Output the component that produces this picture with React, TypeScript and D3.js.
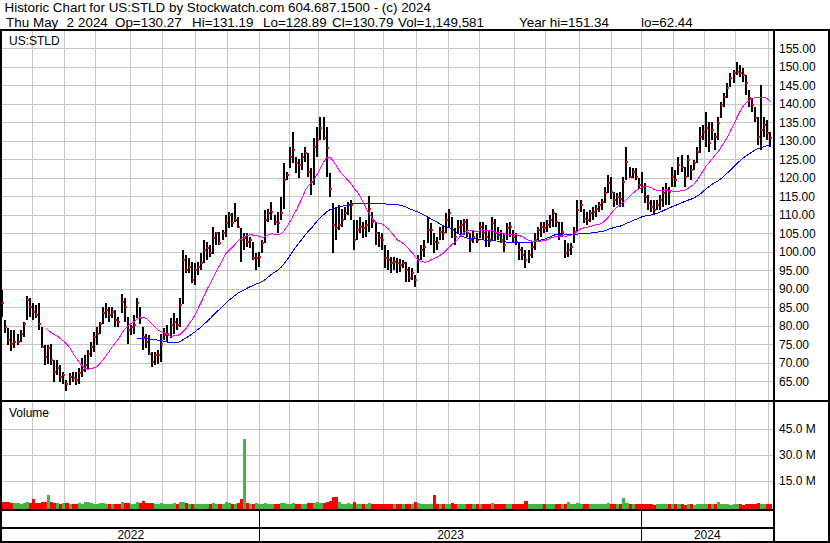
import React from "react";
import * as d3 from "d3";

// ---------- DATA (2-trading-day bars, May 2 2022 .. May 2 2024) ----------
const HIGHS = [
  89.7, 81.7, 79.3, 78.9, 78.9, 77.9, 79.0, 81.1, 88.0, 87.4,
  86.1, 85.6, 86.1, 79.7, 74.8, 74.8, 75.2, 70.7, 70.7, 69.4,
  67.6, 65.3, 67.2, 67.6, 67.6, 68.5, 71.2, 72.1, 73.5, 75.7,
  78.4, 79.7, 81.1, 85.2, 86.1, 85.2, 85.2, 84.3, 82.5, 88.6,
  87.4, 82.5, 80.2, 82.9, 87.4, 85.2, 79.7, 77.9, 77.5, 73.0,
  73.0, 73.5, 77.9, 79.3, 80.2, 82.0, 83.4, 82.0, 87.4, 100.5,
  99.1, 98.2, 97.3, 96.9, 97.3, 99.6, 103.2, 102.7, 101.8, 106.8,
  105.4, 105.4, 105.9, 109.9, 110.8, 110.4, 113.1, 109.5, 106.3, 105.0,
  105.0, 104.1, 102.7, 99.6, 100.0, 103.2, 111.3, 111.7, 113.5, 109.9,
  110.8, 114.9, 123.9, 121.7, 128.4, 132.5, 125.7, 125.2, 126.6, 128.4,
  126.6, 122.6, 130.7, 133.8, 136.5, 136.3, 133.8, 121.2, 113.1, 112.2,
  112.6, 111.7, 112.2, 113.5, 114.0, 108.6, 108.6, 109.5, 108.1, 108.6,
  115.1, 110.8, 107.7, 105.4, 105.0, 101.8, 100.5, 98.7, 98.7, 98.2,
  98.0,
  97.8, 97.3, 95.9, 95.5, 93.7, 99.1, 101.8, 103.2, 109.5, 107.7,
  105.0, 104.1, 106.8, 107.2, 110.4, 111.7, 109.5, 106.3, 108.6, 108.6,
  109.0, 109.0, 105.0, 105.9, 105.0, 108.1, 108.1, 107.2, 105.9, 109.5,
  109.0, 106.8, 105.9, 105.0, 107.7, 108.1, 105.9, 105.0, 102.3, 101.4,
  100.5, 100.5, 102.3, 105.0, 106.8, 108.1, 108.1, 108.6, 109.9, 111.7,
  110.4, 108.1, 108.1, 103.2, 102.3, 102.3, 106.8, 114.0, 114.0, 111.7,
  110.8, 111.3, 112.2, 112.6, 113.5, 114.4, 117.6, 120.8, 120.3, 116.2,
  115.8, 116.2, 120.3, 128.4, 123.0, 122.6, 122.6, 119.9, 121.7, 118.5,
  115.3, 114.0, 114.0, 114.0, 115.3, 117.6, 118.5, 117.6, 123.0, 122.1,
  125.7, 126.2, 123.0, 126.2, 123.4, 124.8, 128.4, 133.8, 134.3, 137.9,
  135.2, 135.2, 132.0, 136.5, 140.6, 142.8, 145.5, 148.2, 149.1, 151.3,
  150.5, 149.6, 147.8, 143.7, 141.5, 139.2, 136.5, 145.1, 136.5, 135.6,
  132.5,
];

const LOWS = [
  82.5, 78.1, 74.8, 73.3, 73.9, 74.8, 75.7, 77.0, 81.6, 82.5,
  81.6, 82.0, 78.9, 73.9, 69.4, 69.8, 69.4, 64.9, 66.7, 64.9,
  64.4, 62.4, 64.0, 64.9, 64.0, 64.4, 66.2, 67.6, 68.0, 71.6,
  73.0, 74.8, 77.9, 80.6, 82.0, 81.1, 82.0, 79.7, 79.7, 83.4,
  81.1, 75.2, 77.5, 77.9, 82.0, 80.6, 73.5, 73.9, 72.1, 68.9,
  69.4, 69.8, 70.3, 76.1, 75.7, 76.6, 77.9, 78.9, 79.7, 86.0,
  94.2, 94.2, 91.5, 91.0, 93.7, 95.1, 96.9, 97.8, 98.7, 99.5,
  101.8, 101.8, 103.2, 104.1, 106.3, 106.8, 108.1, 106.3, 97.3, 100.5,
  101.4, 100.9, 97.8, 95.1, 96.0, 99.6, 102.5, 108.1, 108.6, 107.2,
  105.0, 108.6, 111.7, 119.4, 122.6, 123.9, 121.2, 119.9, 122.1, 124.3,
  120.3, 115.3, 118.0, 125.7, 130.2, 130.2, 120.3, 114.9, 99.6, 103.2,
  105.9, 106.8, 108.6, 110.0, 108.6, 100.5, 103.2, 105.0, 103.6, 104.1,
  105.4, 106.3, 101.8, 101.4, 100.5, 95.5, 95.1, 94.2, 95.1, 94.2,
  94.6,
  95.5, 91.9, 91.9, 92.4, 90.4, 94.2, 97.8, 98.7, 102.3, 101.8,
  99.6, 100.5, 103.2, 103.2, 105.0, 106.8, 103.6, 101.8, 105.0, 104.1,
  104.5, 104.1, 100.0, 102.3, 102.3, 103.6, 103.2, 101.4, 101.4, 103.2,
  103.2, 103.2, 102.3, 100.0, 103.2, 104.1, 102.3, 101.8, 97.8, 97.8,
  95.5, 96.9, 98.2, 100.5, 103.2, 104.1, 105.0, 105.4, 106.3, 106.8,
  106.8, 103.2, 104.1, 98.2, 98.7, 99.1, 102.3, 105.5, 110.8, 107.7,
  107.2, 108.1, 108.6, 109.5, 110.8, 111.3, 113.1, 115.8, 114.4, 112.2,
  112.6, 112.2, 112.2, 119.4, 119.9, 119.9, 119.4, 117.1, 115.8, 113.1,
  111.3, 110.8, 110.0, 111.3, 111.3, 112.2, 112.6, 112.6, 117.6, 117.6,
  120.8, 121.7, 117.6, 120.3, 119.4, 122.1, 123.9, 126.6, 130.2, 128.4,
  127.1, 130.2, 127.5, 130.2, 136.1, 139.2, 141.5, 144.6, 145.5, 147.8,
  147.3, 146.0, 142.4, 139.2, 137.9, 135.2, 128.9, 127.5, 131.1, 130.2,
  128.4,
];

const CLOSES = [
  86.1, 79.7, 76.2, 75.2, 75.7, 75.7, 77.9, 80.6, 87.0, 85.2,
  83.8, 82.9, 80.6, 74.4, 71.7, 73.9, 70.7, 67.6, 68.5, 66.2,
  66.7, 64.4, 66.2, 65.8, 65.3, 67.2, 68.0, 69.4, 72.5, 74.4,
  77.1, 77.9, 80.6, 83.4, 84.3, 82.9, 83.8, 81.6, 81.1, 86.5,
  85.2, 78.9, 79.7, 80.2, 86.1, 82.0, 77.1, 75.7, 72.5, 70.3,
  72.1, 72.1, 75.2, 77.5, 77.9, 80.2, 81.1, 80.2, 85.6, 97.8,
  95.1, 96.0, 92.4, 95.1, 96.0, 96.9, 100.5, 100.9, 99.6, 103.6,
  105.0, 102.3, 105.0, 107.7, 109.9, 107.7, 108.6, 106.8, 103.2, 103.6,
  102.7, 103.2, 98.2, 98.2, 98.7, 102.3, 108.6, 110.4, 110.8, 108.1,
  107.7, 110.4, 119.4, 120.8, 125.7, 127.5, 123.9, 123.4, 125.7, 126.6,
  121.7, 119.0, 128.4, 130.2, 133.4, 130.7, 128.0, 117.1, 107.2, 106.3,
  107.2, 108.6, 110.4, 112.6, 112.6, 103.2, 105.9, 106.8, 106.3, 107.2,
  111.7, 108.1, 105.0, 103.6, 103.2, 98.2, 97.8, 96.9, 97.3, 96.9,
  96.4,
  96.9, 95.1, 92.8, 94.2, 92.4, 97.8, 100.5, 101.4, 105.9, 105.9,
  102.7, 102.3, 105.4, 105.0, 108.6, 110.4, 105.9, 104.1, 106.8, 107.2,
  108.1, 105.0, 103.2, 104.1, 103.2, 106.8, 105.0, 104.1, 103.2, 107.7,
  105.0, 104.5, 103.2, 101.8, 106.3, 106.8, 104.1, 102.7, 100.5, 99.1,
  97.8, 99.1, 101.4, 103.2, 105.9, 106.8, 106.3, 107.2, 108.6, 110.4,
  108.1, 104.5, 105.4, 99.6, 100.5, 101.4, 105.4, 111.3, 112.6, 109.0,
  108.6, 110.4, 110.8, 111.7, 112.6, 113.5, 115.8, 118.5, 116.2, 114.0,
  114.9, 114.4, 119.0, 124.4, 120.3, 121.7, 120.3, 118.0, 117.6, 114.9,
  113.1, 112.2, 111.3, 112.6, 114.0, 115.8, 116.7, 116.2, 120.3, 119.4,
  123.4, 123.0, 120.3, 124.8, 122.1, 123.9, 127.1, 131.1, 132.5, 133.4,
  129.3, 132.9, 131.1, 134.7, 139.7, 141.9, 144.2, 146.9, 148.2, 148.7,
  148.2, 147.8, 145.5, 141.5, 139.7, 136.1, 131.1, 132.9, 134.3, 132.0,
  130.8,
];

// volume in millions of shares
const VOLUMES = [
  3.0, 2.6, 2.8, 2.4, 2.2, 2.5, 2.0, 2.3, 2.8, 2.2,
  4.4, 2.1, 2.4, 2.9, 2.6, 6.8, 2.7, 2.5, 2.2, 2.0,
  2.1, 2.3, 1.9, 2.0, 1.8, 2.2, 1.9, 3.0, 2.6, 2.2,
  2.0, 1.8, 2.1, 2.3, 1.9, 2.0, 1.7, 1.9, 2.0, 2.7,
  2.1, 2.4, 1.9, 2.0, 3.0, 2.2, 3.4, 2.1, 2.3, 2.5,
  2.0, 1.9, 2.2, 1.8, 1.9, 2.0, 2.1, 1.8, 2.8, 3.0,
  2.4, 2.0, 1.9, 1.8, 1.7, 1.9, 2.0, 1.8, 1.7, 2.2,
  1.9, 2.0, 1.8, 2.6, 2.1, 1.9, 2.0, 2.2, 4.3, 39.0,
  2.4, 2.0, 1.9, 2.1, 1.8, 1.9, 2.3, 2.0, 1.8, 1.7,
  1.9, 2.2, 2.5, 1.8, 2.0, 2.2, 1.9, 1.8, 1.7, 2.0,
  2.2, 2.4, 2.3, 2.8, 2.1, 2.3, 2.6, 3.2, 5.8, 5.6,
  2.6, 2.0, 1.9, 2.1, 1.8, 2.8, 2.0, 1.8, 1.7, 1.9,
  2.5, 1.9, 1.8, 1.7, 1.9, 2.0, 1.8, 1.7, 1.6, 1.8,
  1.6,
  1.7, 1.8, 2.0, 1.9, 2.6, 2.2, 1.8, 1.7, 2.0, 1.9,
  6.8, 2.0, 1.8, 1.7, 1.9, 2.0, 2.1, 1.8, 1.7, 1.6,
  1.7, 1.8, 2.0, 1.6, 1.7, 1.8, 1.6, 1.7, 1.6, 2.3,
  1.8, 1.7, 1.6, 1.9, 1.8, 1.6, 1.5, 1.7, 1.8, 1.9,
  3.3, 1.9, 1.7, 1.6, 1.8, 1.7, 1.6, 1.5, 1.7, 1.8,
  1.6, 1.7, 1.9, 2.0, 2.6, 1.8, 1.7, 2.2, 1.9, 1.6,
  1.5, 1.6, 1.7, 1.5, 1.6, 1.7, 1.8, 2.4, 1.9, 1.7,
  1.6, 1.7, 5.2, 2.4, 1.9, 1.7, 1.6, 1.5, 1.6, 1.7,
  1.6, 1.5, 1.4, 1.6, 1.5, 2.0, 1.6, 1.5, 1.7, 1.5,
  1.6, 1.5, 1.4, 1.6, 1.5, 1.4, 1.6, 1.8, 2.0, 1.9,
  1.8, 1.6, 1.5, 2.9, 1.7, 1.6, 1.5, 1.4, 1.5, 1.6,
  1.5, 1.4, 1.6, 1.7, 1.6, 1.5, 2.3, 2.0, 1.8, 1.6,
  1.5,
];

const PRICE_TICKS = [65, 70, 75, 80, 85, 90, 95, 100, 105, 110, 115, 120, 125, 130, 135, 140, 145, 150, 155];
const VOLUME_TICKS = [15, 30, 45];
const MA_SHORT_DAYS = 30;
const MA_LONG_DAYS = 90;
const START_DATE = "2022-05-02";
const END_DATE = "2024-05-02";
const HOLIDAYS = [
  "2022-05-30", "2022-06-20", "2022-07-04", "2022-09-05", "2022-11-24", "2022-12-26",
  "2023-01-02", "2023-01-16", "2023-02-20", "2023-04-07", "2023-05-29", "2023-06-19",
  "2023-07-04", "2023-09-04", "2023-11-23", "2023-12-25",
  "2024-01-01", "2024-01-15", "2024-02-19", "2024-03-29",
];
const HEADER_1 = "Historic Chart for US:STLD by Stockwatch.com 604.687.1500 - (c) 2024";
const HEADER_2 = ["Thu", "May", "2", "2024", "Op=130.27", "Hi=131.19", "Lo=128.89", "Cl=130.79", "Vol=1,149,581", "Year hi=151.34", "lo=62.44"];
const SYMBOL = "US:STLD";

// ---------- LAYOUT ----------
const HEADER_2_X = [6, 33, 66.5, 78, 115, 192, 263, 332, 398, 519, 641];
const FONT = "'Liberation Sans', Arial, Helvetica, sans-serif";
const AXIS_X = 774;
const PRICE_TOP = 31, PRICE_BOTTOM = 400;
const VOL_TOP = 402, VOL_BOTTOM = 509;
const GRID = "#c6c6c6";

function tradingDays(): Date[] {
  const hol = new Set(HOLIDAYS);
  const out: Date[] = [];
  const d = new Date(START_DATE + "T00:00:00Z");
  const end = new Date(END_DATE + "T00:00:00Z").getTime();
  while (d.getTime() <= end) {
    const wd = d.getUTCDay();
    const iso = d.toISOString().slice(0, 10);
    if (wd !== 0 && wd !== 6 && !hol.has(iso)) out.push(new Date(d.getTime()));
    d.setUTCDate(d.getUTCDate() + 1);
  }
  return out;
}

function sma(values: number[], n: number): (number | null)[] {
  return values.map((_, i) => (i < n - 1 ? null : d3.mean(values.slice(i - n + 1, i + 1)) as number));
}

export default function App() {
  const days = tradingDays();
  const nDays = days.length;
  const daysPerBar = 2;
  const xDay = d3.scaleLinear().domain([0, nDays - 1]).range([1.2, 770.8]);
  const yP = d3.scaleLinear().domain([65, 155]).range([381.3, 48.3]);
  const yV = d3.scaleLinear().domain([0, 45]).range([507, 428.5]);

  const monthStarts: number[] = [];
  const yearStarts: number[] = [];
  for (let i = 1; i < nDays; i++) {
    if (days[i].getUTCMonth() !== days[i - 1].getUTCMonth()) monthStarts.push(i);
    if (days[i].getUTCFullYear() !== days[i - 1].getUTCFullYear()) yearStarts.push(i);
  }
  const gridX = (i: number) => Math.round(xDay(i) - 1) + 0.5;
  const yearEdges = [2, ...yearStarts.map(gridX), AXIS_X - 1];
  const yearLabels = [days[0].getUTCFullYear(), ...yearStarts.map((i) => days[i].getUTCFullYear())];

  const barX = (j: number) => Math.round(xDay(j * daysPerBar));
  const maShort = sma(CLOSES, MA_SHORT_DAYS / daysPerBar);
  const maLong = sma(CLOSES, MA_LONG_DAYS / daysPerBar);
  const line = d3
    .line<number | null>()
    .defined((v) => v !== null)
    .x((_, j) => xDay(j * daysPerBar + 1))
    .y((v) => yP(v as number));

  return (
    <svg
      width={830}
      height={543}
      style={{ position: "absolute", left: 0, top: 0, background: "#fff", display: "block" }}
      fontFamily={FONT}
    >
      <rect x={0} y={0} width={830} height={543} fill="#fff" />
      <defs>
        <clipPath id="pclip">
          <rect x={2} y={PRICE_TOP} width={AXIS_X - 3} height={PRICE_BOTTOM - PRICE_TOP} />
        </clipPath>
        <clipPath id="vclip">
          <rect x={2} y={VOL_TOP} width={AXIS_X - 3} height={VOL_BOTTOM - VOL_TOP} />
        </clipPath>
      </defs>

      {/* header */}
      <text x={4.5} y={12} fontSize={13.4} fill="#000">{HEADER_1}</text>
      {HEADER_2.map((t, k) => (
        <text key={k} x={HEADER_2_X[k]} y={26.5} fontSize={13.4} fill="#000">{t}</text>
      ))}

      {/* grids */}
      <g shapeRendering="crispEdges" stroke={GRID} strokeWidth={1}>
        {PRICE_TICKS.map((p) => (
          <line key={"hp" + p} x1={2} x2={AXIS_X - 1} y1={Math.round(yP(p)) + 0.5} y2={Math.round(yP(p)) + 0.5} />
        ))}
        {VOLUME_TICKS.map((v) => (
          <line key={"hv" + v} x1={2} x2={AXIS_X - 1} y1={Math.round(yV(v)) + 0.5} y2={Math.round(yV(v)) + 0.5} />
        ))}
        {monthStarts.map((i) => (
          <line key={"vp" + i} x1={gridX(i)} x2={gridX(i)} y1={PRICE_TOP} y2={PRICE_BOTTOM} />
        ))}
        {monthStarts.map((i) => (
          <line key={"vv" + i} x1={gridX(i)} x2={gridX(i)} y1={VOL_TOP} y2={VOL_BOTTOM} />
        ))}
      </g>

      <text x={9} y={45} fontSize={12} fill="#000">{SYMBOL}</text>
      <text x={9} y={417} fontSize={12} fill="#000">Volume</text>

      {/* price bars */}
      <g clipPath="url(#pclip)" shapeRendering="crispEdges">
        {HIGHS.map((h, j) => {
          const x = barX(j);
          const y1 = Math.round(yP(h));
          const y2 = Math.round(yP(LOWS[j]));
          return <rect key={"b" + j} x={x} y={y1} width={2} height={Math.max(1, y2 - y1)} fill="#000" />;
        })}
        {CLOSES.map((c, j) => (
          <rect key={"c" + j} x={barX(j) + 1} y={Math.round(yP(c)) - 1} width={2} height={2} fill="#ff0000" />
        ))}
        <path d={line(maLong) || ""} fill="none" stroke="#0000ff" strokeWidth={1} />
        <path d={line(maShort) || ""} fill="none" stroke="#ff00ff" strokeWidth={1} />
      </g>

      {/* volume bars */}
      <g clipPath="url(#vclip)" shapeRendering="crispEdges">
        {VOLUMES.map((v, j) => {
          const x = barX(j);
          const x2 = j + 1 < VOLUMES.length ? barX(j + 1) : x + 3;
          const up = j > 0 && CLOSES[j] >= CLOSES[j - 1];
          const y = Math.round(yV(v));
          return (
            <rect key={"v" + j} x={x} y={y} width={Math.max(1, x2 - x)} height={Math.max(1, VOL_BOTTOM - y)} fill={up ? "#44b444" : "#ff0000"} />
          );
        })}
      </g>

      {/* frame */}
      <g stroke="#000" strokeWidth={2} shapeRendering="crispEdges">
        <line x1={0} x2={830} y1={30} y2={30} />
        <line x1={1} x2={1} y1={29} y2={543} />
        <line x1={829} x2={829} y1={29} y2={543} />
        <line x1={AXIS_X} x2={AXIS_X} y1={29} y2={543} />
        <line x1={0} x2={830} y1={401} y2={401} />
        <line x1={0} x2={AXIS_X} y1={510} y2={510} />
        <line x1={0} x2={AXIS_X} y1={527.5} y2={527.5} />
        <line x1={0} x2={830} y1={542} y2={542} />
      </g>
      <g stroke="#000" strokeWidth={1} shapeRendering="crispEdges">
        {yearStarts.map((i) => (
          <line key={"yd" + i} x1={gridX(i)} x2={gridX(i)} y1={510} y2={542} />
        ))}
      </g>

      {/* axis labels */}
      {PRICE_TICKS.map((p) => (
        <text key={"pl" + p} x={779} y={yP(p) + 4.3} fontSize={12} fill="#000">{p.toFixed(2)}</text>
      ))}
      {VOLUME_TICKS.map((v) => (
        <text key={"vl" + v} x={779} y={yV(v) + 4.3} fontSize={12} fill="#000">{v.toFixed(1) + " M"}</text>
      ))}
      {yearLabels.map((yr, k) => (
        <text key={"yl" + yr} x={(yearEdges[k] + yearEdges[k + 1]) / 2} y={539} fontSize={12} textAnchor="middle" fill="#000">{yr}</text>
      ))}
    </svg>
  );
}
